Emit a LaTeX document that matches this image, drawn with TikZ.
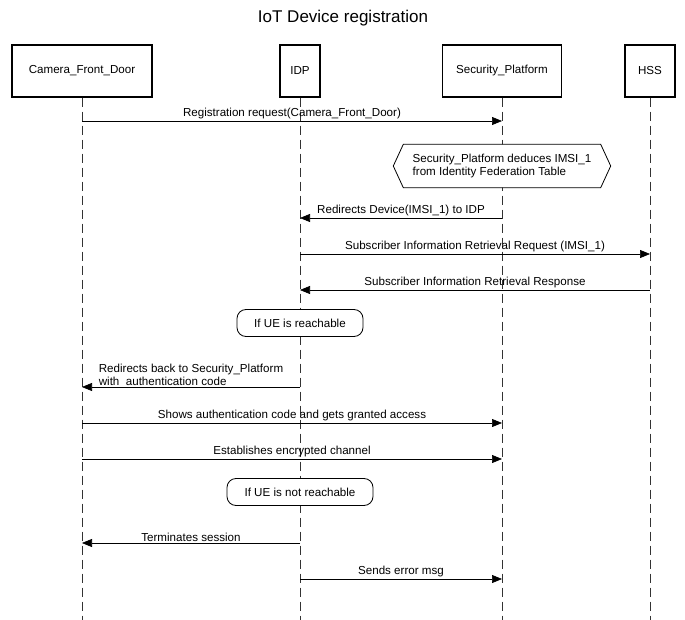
\documentclass[tikz,border=0pt]{standalone}
\usepackage{fontspec}
\setmainfont{Liberation Sans}
\usetikzlibrary{arrows.meta}
\begin{document}
\begin{tikzpicture}[x=1pt,y=-1pt,
  txt/.style={font=\fontsize{11.6}{13}\selectfont},
  actor/.style={draw,line width=1.2pt,minimum height=52pt,inner sep=0pt,txt},
  life/.style={draw=black!80,line width=0.7pt,dash pattern=on 9pt off 5pt},
  msg/.style={draw,line width=0.7pt,-{Triangle[length=10pt,width=8pt]}},
  lbl/.style={txt,inner sep=1.5pt,anchor=south},
  cond/.style={draw,line width=0.8pt,rounded corners=9pt,minimum height=27pt,txt}
]
\useasboundingbox (0,0) rectangle (685,620);
\node (title) at (343,18) {\fontsize{17}{20}\selectfont IoT Device registration};
\node[actor,minimum width=140pt] (cam) at (82,71) {Camera\_Front\_Door};
\node[actor,minimum width=40pt] (idp) at (300,71) {IDP};
\node[actor,minimum width=119pt] (sec) at (502,71) {Security\_Platform};
\node[actor,minimum width=50pt] (hss) at (650,71) {HSS};
\coordinate (camE) at (82,620);
\coordinate (idpE) at (300,620);
\coordinate (secE) at (502,620);
\coordinate (hssE) at (650,620);
\draw[life] (cam.south) -- (camE);
\draw[life] (idp.south) -- (idpE);
\draw[life] (sec.south) -- (secE);
\draw[life] (hss.south) -- (hssE);

% messages
\coordinate (c1) at (82,121); \coordinate (s1) at (502,121);
\draw[msg] (c1) -- node[lbl]{Registration request(Camera\_Front\_Door)} (s1);

\node[minimum width=197pt,minimum height=43pt,inner sep=0pt] (hex) at (502,166) {};
\fill[white] (hex.north west) -- (hex.north east) -- ([xshift=10pt]hex.east) -- (hex.south east) -- (hex.south west) -- ([xshift=-10pt]hex.west) -- cycle;
\draw[line width=0.8pt] (hex.north west) -- (hex.north east) -- ([xshift=10pt]hex.east) -- (hex.south east) -- (hex.south west) -- ([xshift=-10pt]hex.west) -- cycle;
\node[align=left,txt] (hextxt) at (hex.center) {Security\_Platform deduces IMSI\_1\\from Identity Federation Table};

\coordinate (s2) at (502,218); \coordinate (i2) at (300,218);
\draw[msg] (s2) -- node[lbl]{Redirects Device(IMSI\_1) to IDP} (i2);

\coordinate (i3) at (300,254); \coordinate (h3) at (650,254);
\draw[msg] (i3) -- node[lbl]{Subscriber Information Retrieval Request (IMSI\_1)} (h3);

\coordinate (h4) at (650,290); \coordinate (i4) at (300,290);
\draw[msg] (h4) -- node[lbl]{Subscriber Information Retrieval Response} (i4);

\node[cond,fill=white,minimum width=126pt] (r1) at (300,323) {If UE is reachable};

\coordinate (i5) at (300,387); \coordinate (c5) at (82,387);
\draw[msg] (i5) -- node[lbl,align=left,font=\fontsize{11.6}{12.5}\selectfont]{Redirects back to Security\_Platform\\with\ \ authentication code} (c5);

\coordinate (c6) at (82,423); \coordinate (s6) at (502,423);
\draw[msg] (c6) -- node[lbl]{Shows authentication code and gets granted access} (s6);

\coordinate (c7) at (82,459); \coordinate (s7) at (502,459);
\draw[msg] (c7) -- node[lbl]{Establishes encrypted channel} (s7);

\node[cond,fill=white,minimum width=146pt] (r2) at (300,492) {If UE is not reachable};

\coordinate (i8) at (300,543); \coordinate (c8) at (82,543);
\draw[msg] (i8) -- node[lbl]{Terminates session} (c8);

\coordinate (i9) at (300,579); \coordinate (s9) at (502,579);
\draw[msg] (i9) -- node[lbl]{Sends error msg} (s9);
\end{tikzpicture}
\end{document}
